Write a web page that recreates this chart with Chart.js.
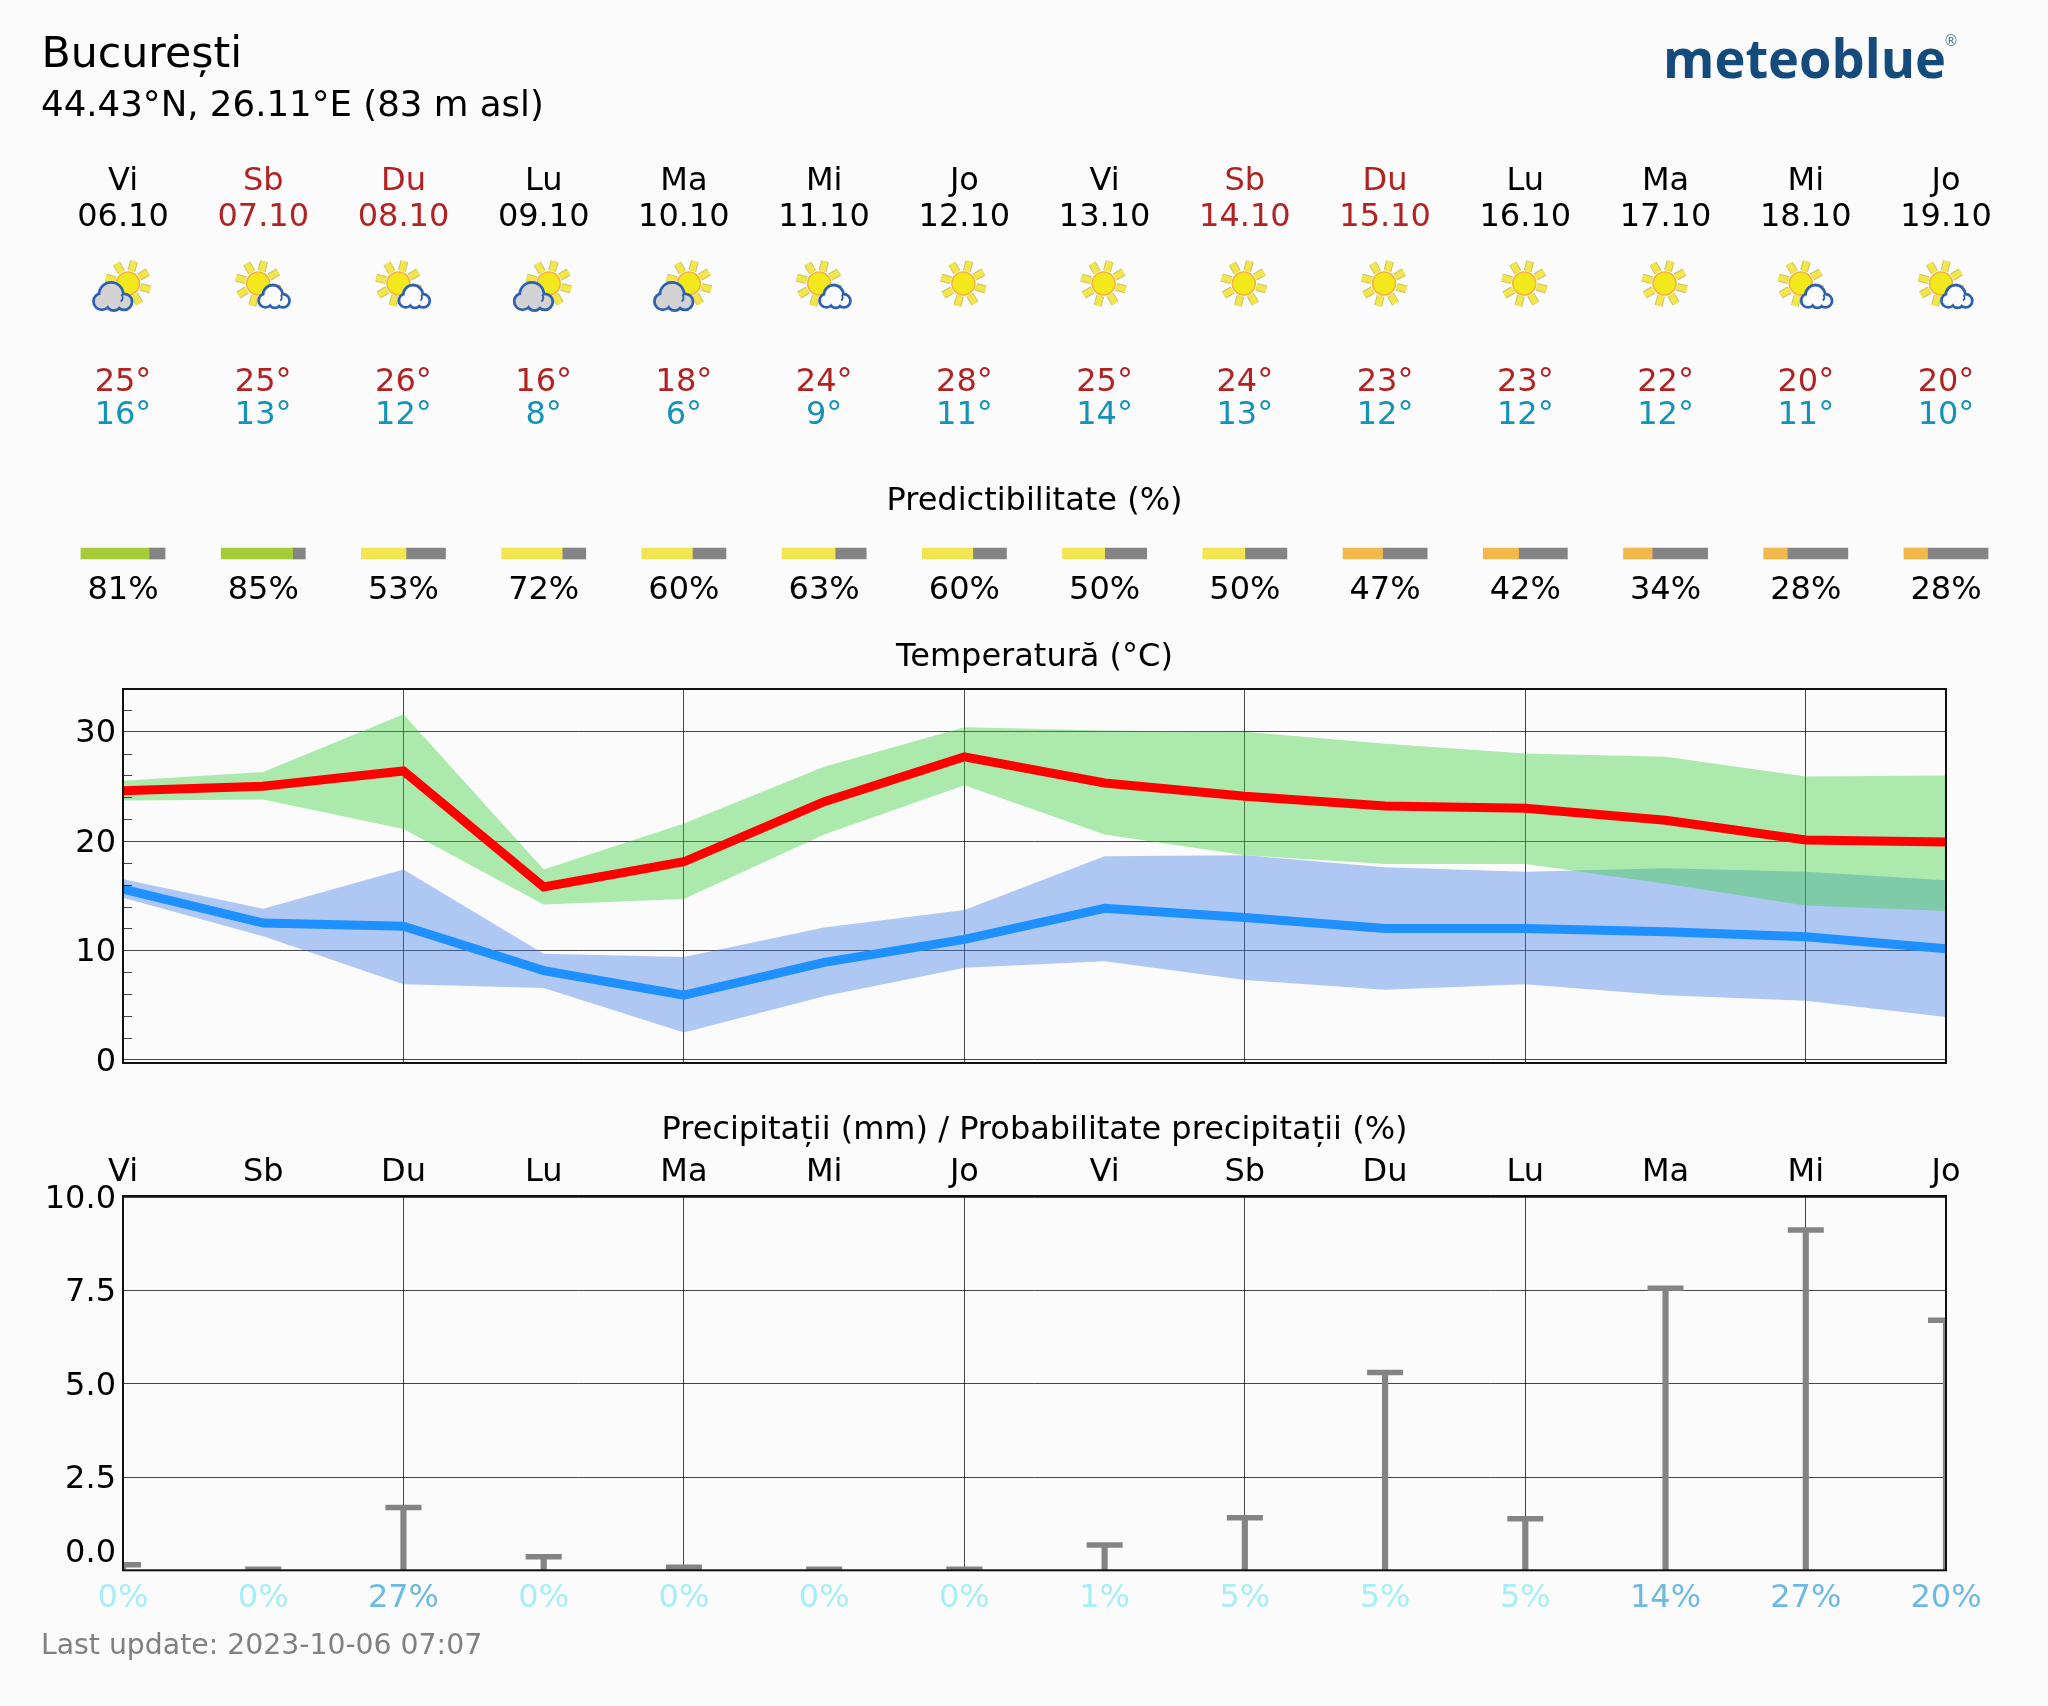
<!DOCTYPE html>
<html>
<head>
<meta charset="utf-8">
<script src="https://cdn.jsdelivr.net/npm/chart.js@4/dist/chart.umd.min.js"></script>
<style>
html,body{margin:0;padding:0;background:#fbfbfb;}
body{width:2048px;height:1706px;position:relative;overflow:hidden;}
canvas{position:absolute;left:0;}
</style>
</head>
<body>
<canvas id="head" width="2048" height="640" style="top:0;width:2048px;height:640px"></canvas>
<canvas id="temp" width="2048" height="460" style="top:640px;width:2048px;height:460px"></canvas>
<canvas id="prec" width="2048" height="606" style="top:1100px;width:2048px;height:606px"></canvas>
<script>
const place = 'București';
const coords = '44.43°N, 26.11°E (83 m asl)';
const updated = 'Last update: 2023-10-06 07:07';
const days = ['Vi','Sb','Du','Lu','Ma','Mi','Jo','Vi','Sb','Du','Lu','Ma','Mi','Jo'];
const dates = ['06.10','07.10','08.10','09.10','10.10','11.10','12.10','13.10','14.10','15.10','16.10','17.10','18.10','19.10'];
const icons = ['gray','white','white','gray','gray','white','sun','sun','sun','sun','sun','sun','white','white'];
const highs = [25,25,26,16,18,24,28,25,24,23,23,22,20,20];
const lows = [16,13,12,8,6,9,11,14,13,12,12,12,11,10];
const predict = [81,85,53,72,60,63,60,50,50,47,42,34,28,28];
const tempMax = [24.6,25.0,26.4,15.8,18.1,23.6,27.7,25.3,24.1,23.2,23.0,21.9,20.1,19.9];
const tempMin = [15.6,12.5,12.2,8.15,5.9,8.9,11.0,13.85,13.0,12.0,12.0,11.7,11.25,10.15];
const maxUpper = [25.5,26.3,31.6,17.4,21.6,26.8,30.4,30.1,30.0,28.9,28.0,27.7,25.9,26.0];
const maxLower = [23.7,23.8,21.1,14.2,14.7,20.6,25.1,20.6,18.7,17.9,17.9,16.1,14.1,13.6];
const minUpper = [16.5,13.8,17.4,9.7,9.4,12.1,13.7,18.6,18.7,17.6,17.2,17.5,17.2,16.4];
const minLower = [14.8,11.3,6.9,6.55,2.5,5.8,8.4,9.0,7.3,6.4,6.9,5.9,5.4,3.9];
const precip = [0.15,0.03,1.68,0.36,0.08,0.03,0.03,0.68,1.41,5.3,1.38,7.56,9.12,6.7];
const precipProb = [0,0,27,0,0,0,0,1,5,5,5,14,27,20];

const FONT = '"DejaVu Sans"';
const BG = '#fbfbfb', RED = '#b22222', BLUE_TXT = '#1492b8', GRAY = '#848484', LINE = 'rgba(0,0,0,0.72)';
const AREA_LEFT = 123, AREA_RIGHT = 102;
const indexes = days.map((_, i) => i);
Chart.defaults.font.family = FONT;
Chart.defaults.animation = false;
Chart.defaults.responsive = false;
Chart.defaults.devicePixelRatio = 1;
Chart.defaults.plugins.legend.display = false;
Chart.defaults.plugins.tooltip.enabled = false;

const noPad = s => { s.paddingLeft = s.paddingRight = s.paddingTop = s.paddingBottom = 0; };
const yFit = s => { s.width = AREA_LEFT; noPad(s); };
const titleOf = (text, top, bottom) => ({display:true, text, color:'#000', fullSize:false,
  font:{size:32, weight:'normal', lineHeight:1}, padding:{top, bottom}});
const frame = {id:'frame', afterDatasetsDraw(chart){
  const {ctx, chartArea:a} = chart;
  ctx.save(); ctx.strokeStyle = '#111'; ctx.lineWidth = 2;
  ctx.strokeRect(a.left, a.top, a.right - a.left, a.bottom - a.top);
  ctx.restore();
}};

function drawSun(ctx, x, y){
  const rays = [-75,-30,15,60,105,150,195,240];
  ctx.lineCap = 'butt';
  [['#c9c36a',8],['#f3e64a',6]].forEach(([c,w]) => {
    ctx.strokeStyle = c; ctx.lineWidth = w;
    rays.forEach(d => { const r = d*Math.PI/180;
      ctx.beginPath(); ctx.moveTo(x+Math.cos(r)*13, y+Math.sin(r)*13);
      ctx.lineTo(x+Math.cos(r)*23, y+Math.sin(r)*23); ctx.stroke(); });
  });
  ctx.beginPath(); ctx.arc(x, y, 11.5, 0, 2*Math.PI);
  ctx.fillStyle = '#f3e81c'; ctx.fill();
  ctx.strokeStyle = '#f6b23a'; ctx.lineWidth = 1.6; ctx.stroke();
}
function drawCloud(ctx, x, y, w, fill){
  const lobes = [[-0.30,0.12,0.19],[-0.05,-0.07,0.29],[0.30,0.13,0.18],[0.02,0.17,0.16]];
  const path = () => { ctx.beginPath(); lobes.forEach(([a,b,r]) => {
    ctx.moveTo(x+a*w+r*w, y+b*w); ctx.arc(x+a*w, y+b*w, r*w, 0, 2*Math.PI); }); };
  path(); ctx.strokeStyle = '#2d60b4'; ctx.lineWidth = 5.5; ctx.stroke();
  path(); ctx.fillStyle = fill; ctx.fill();
  ctx.beginPath(); ctx.arc(x+0.14*w, y+0.02*w, 0.12*w, -0.8, 1.0);
  ctx.strokeStyle = '#2d60b4'; ctx.lineWidth = 1.8; ctx.stroke();
}
const header = {id:'header', afterDatasetsDraw(chart){
  const {ctx} = chart, sx = chart.scales.x;
  const text = (s, x, y, size, color, align) => {
    ctx.font = size + 'px ' + FONT; ctx.fillStyle = color; ctx.textAlign = align || 'center';
    ctx.textBaseline = 'alphabetic'; ctx.fillText(s, x, y);
  };
  ctx.save();
  text(place, 41.5, 67, 42.7, '#000', 'left');
  text(coords, 41, 116, 35.6, '#000', 'left');
  ctx.font = '700 54px "Open Sans"'; ctx.fillStyle = '#144b7c'; ctx.textAlign = 'left';
  ctx.textBaseline = 'alphabetic'; ctx.fillText('meteoblue', 1663, 78, 283);
  ctx.font = '15px ' + FONT; ctx.textAlign = 'center'; ctx.fillStyle = '#4f7ea6'; ctx.fillText('®', 1951, 46);
  indexes.forEach(i => {
    const x = sx.getPixelForValue(i);
    const c = (days[i] === 'Sb' || days[i] === 'Du') ? RED : '#000';
    text(days[i], x, 190, 32, c);
    text(dates[i], x, 226, 32, c);
    text(highs[i] + '°', x, 391, 32, RED);
    text(lows[i] + '°', x, 424, 32, BLUE_TXT);
    text(predict[i] + '%', x, 599, 32, '#000');
    if (icons[i] === 'sun') drawSun(ctx, x - 1, 283.5);
    else if (icons[i] === 'gray') { drawSun(ctx, x+5, 283.5); drawCloud(ctx, x-10, 297, 37, '#d3d3d3'); }
    else { drawSun(ctx, x-5, 283.5); drawCloud(ctx, x+11, 297, 29, '#fbfbfb'); }
  });
  ctx.restore();
}};

const BAR_SPAN = 0.6;
const predictColor = p => p >= 80 ? '#a6cc3a' : p >= 50 ? '#f3e552' : '#f2b84b';
new Chart(document.getElementById('head'), {
  type:'bar',
  data:{labels:['p'], datasets:[
    {data:indexes.map(i => ({x:[i-BAR_SPAN/2, i-BAR_SPAN/2+BAR_SPAN*predict[i]/100], y:'p'})),
     backgroundColor:predict.map(predictColor), barThickness:11, grouped:false, clip:false},
    {data:indexes.map(i => ({x:[i-BAR_SPAN/2+BAR_SPAN*predict[i]/100, i+BAR_SPAN/2], y:'p'})),
     backgroundColor:GRAY, barThickness:11, grouped:false, clip:false}
  ]},
  options:{indexAxis:'y',
    layout:{padding:{left:AREA_LEFT, right:AREA_RIGHT, top:0, bottom:81}},
    plugins:{title:titleOf('Predictibilitate (%)', 486, 30)},
    scales:{x:{type:'linear', display:false, min:0, max:13}, y:{type:'category', display:false}}},
  plugins:[header]
});

const minorTicks = {id:'minorTicks', afterDatasetsDraw(chart){
  const {ctx, chartArea:a} = chart, sy = chart.scales.y;
  ctx.save(); ctx.strokeStyle = LINE; ctx.lineWidth = 1;
  sy.ticks.forEach(t => { if (t.value % 10 !== 0) {
    const p = Math.round(sy.getPixelForValue(t.value)) + 0.5;
    ctx.beginPath(); ctx.moveTo(a.left, p); ctx.lineTo(a.left + 9, p); ctx.stroke(); } });
  ctx.restore();
}};
const band = (data, fill, color) => ({data, fill, backgroundColor:color, borderWidth:0, pointRadius:0, tension:0, clip:0});
const GREEN_BAND = 'rgba(50,205,50,0.39)', BLUE_BAND = 'rgba(63,123,233,0.4)';
const evenGrid = ctx => (ctx.index > 0 && ctx.index % 2 === 0) ? LINE : 'transparent';
new Chart(document.getElementById('temp'), {
  type:'line',
  data:{labels:dates, datasets:[
    {data:tempMax, borderColor:'#ff0000', borderWidth:9, pointRadius:0, tension:0, fill:false, clip:0},
    {data:tempMin, borderColor:'#1e90ff', borderWidth:9, pointRadius:0, tension:0, fill:false, clip:0},
    band(maxUpper, '+1', GREEN_BAND), band(maxLower, false, 'transparent'),
    band(minUpper, '+1', BLUE_BAND), band(minLower, false, 'transparent')
  ]},
  options:{
    layout:{padding:{left:0, right:AREA_RIGHT, top:0, bottom:37}},
    plugins:{title:titleOf('Temperatură (°C)', 2, 15)},
    scales:{
      x:{type:'category', offset:false, afterFit:noPad, border:{display:false},
         ticks:{display:false}, grid:{offset:false, drawTicks:false, color:evenGrid, lineWidth:1}},
      y:{min:-0.3, max:33.9, afterFit:yFit, border:{display:false},
         grid:{drawTicks:false, lineWidth:1, color:c => c.tick.value % 10 === 0 ? LINE : 'transparent'},
         ticks:{stepSize:2, includeBounds:false, autoSkip:false, padding:7, labelOffset:2.5, color:'#000',
                font:{size:32, lineHeight:1.2}, callback:v => v % 10 === 0 ? String(v) : ''}}
    }},
  plugins:[frame, minorTicks]
});

const footer = {id:'footer', afterDraw(chart){
  const {ctx} = chart;
  ctx.save(); ctx.font = '28.3px ' + FONT; ctx.fillStyle = '#808080'; ctx.textAlign = 'left';
  ctx.textBaseline = 'alphabetic'; ctx.fillText(updated, 41, 554); ctx.restore();
}};
const probColor = p => p >= 10 ? '#6cb9e3' : '#a6eef6';
new Chart(document.getElementById('prec'), {
  type:'bar',
  data:{labels:precipProb.map(p => p + '%'), datasets:[
    {type:'line', data:precip, showLine:false, pointStyle:'line', pointRadius:18, pointBorderWidth:5.5,
     pointBorderColor:GRAY, borderColor:GRAY, clip:0, order:0},
    {type:'bar', data:precip, backgroundColor:GRAY, barThickness:5.5, clip:0, order:1}
  ]},
  options:{
    layout:{padding:{left:0, right:AREA_RIGHT, top:0, bottom:78.7}},
    plugins:{title:titleOf('Precipitații (mm) / Probabilitate precipitații (%)', 15, 2)},
    scales:{
      x:{type:'category', offset:false, position:'bottom', afterFit:noPad, border:{display:false},
         grid:{offset:false, drawTicks:false, color:evenGrid, lineWidth:1},
         ticks:{autoSkip:false, maxRotation:0, minRotation:0, padding:12.5,
                font:{size:32, lineHeight:1}, color:c => probColor(precipProb[c.index])}},
      x2:{type:'category', labels:days, offset:false, position:'top', afterFit:noPad, border:{display:false},
         grid:{display:false, drawTicks:false},
         ticks:{autoSkip:false, maxRotation:0, minRotation:0, padding:7.5, color:'#000',
                font:{size:32, lineHeight:1}}},
      y:{min:0, max:10.03, afterFit:yFit, border:{display:false},
         grid:{drawTicks:false, lineWidth:1, color:LINE},
         ticks:{stepSize:2.5, includeBounds:false, autoSkip:false, padding:7, labelOffset:2.5, color:'#000',
                font:{size:32, lineHeight:1.2},
                callback:v => v === 0 ? [v.toFixed(1), ''] : v.toFixed(1)}}
    }},
  plugins:[frame, footer]
});
</script>
</body>
</html>
